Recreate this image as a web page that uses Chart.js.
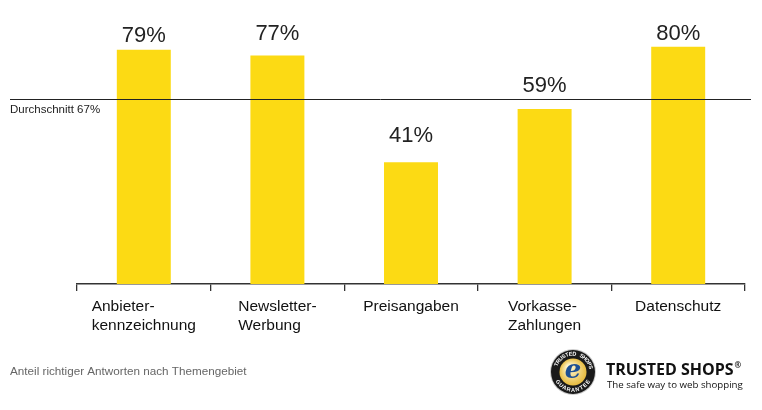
<!DOCTYPE html>
<html>
<head>
<meta charset="utf-8">
<script src="https://cdn.jsdelivr.net/npm/chart.js@4/dist/chart.umd.min.js"></script>
<style>
  html, body { margin: 0; padding: 0; background: #fff; }
  #wrap { width: 762px; height: 410px; position: relative; }
</style>
</head>
<body>
<div id="wrap"><canvas id="quizChart"></canvas></div>
<script>
// Anteil richtiger Antworten je Themengebiet
const categories = [
    ['Anbieter-', 'kennzeichnung'],
    ['Newsletter-', 'Werbung'],
    ['Preisangaben'],
    ['Vorkasse-', 'Zahlungen'],
    ['Datenschutz']
];
const correctShare = [79, 77, 41, 59, 80];
const averageLabel = 'Durchschnitt 67%';
const averageLevel = 62.5;   // where the line sits in the picture
const footnote = 'Anteil richtiger Antworten nach Themengebiet';

// gap between bar top and its label (px), as in the original
const labelGap = [8, 16, 20, 17, 7];

const FONT = '"Liberation Sans", Arial, sans-serif';

const averageLine = {
    id: 'averageLine',
    afterDatasetsDraw(chart) {
        const ctx = chart.ctx;
        const y = Math.round(chart.scales.y.getPixelForValue(averageLevel)) + 0.5;
        ctx.save();
        ctx.strokeStyle = '#222';
        ctx.lineWidth = 1;
        ctx.beginPath();
        ctx.moveTo(10, y);
        ctx.lineTo(751, y);
        ctx.stroke();
        ctx.fillStyle = '#222';
        ctx.font = '11.5px ' + FONT;
        ctx.textBaseline = 'middle';
        ctx.fillText(averageLabel, 10, y + 10);
        ctx.restore();
    }
};

const valueLabels = {
    id: 'valueLabels',
    afterDatasetsDraw(chart) {
        const ctx = chart.ctx;
        const meta = chart.getDatasetMeta(0);
        ctx.save();
        ctx.fillStyle = '#222';
        ctx.font = '22px ' + FONT;
        ctx.textAlign = 'center';
        ctx.textBaseline = 'alphabetic';
        meta.data.forEach((bar, i) => {
            ctx.fillText(correctShare[i] + '%', bar.x, bar.y - labelGap[i]);
        });
        ctx.restore();
    }
};

// category names: block centred under the bar, lines left aligned
const categoryLabels = {
    id: 'categoryLabels',
    afterDraw(chart) {
        const ctx = chart.ctx;
        const xs = chart.scales.x;
        const top = chart.chartArea.bottom;
        ctx.save();
        ctx.fillStyle = '#111';
        ctx.font = '15.5px ' + FONT;
        ctx.textBaseline = 'alphabetic';
        categories.forEach((lines, i) => {
            const cx = xs.getPixelForValue(i);
            const w = Math.max(...lines.map(l => ctx.measureText(l).width));
            lines.forEach((line, j) => {
                ctx.fillText(line, cx - w / 2, top + 27 + j * 19);
            });
        });

        ctx.fillStyle = '#666';
        ctx.font = '11.7px ' + FONT;
        ctx.textBaseline = 'middle';
        ctx.fillText(footnote, 10, 372);
        ctx.restore();
    }
};

// Trusted Shops badge
const badge = {
    id: 'badge',
    afterDraw(chart) {
        const ctx = chart.ctx;
        const cx = 573, cy = 372;
        ctx.save();
        ctx.fillStyle = '#ccc';
        ctx.beginPath(); ctx.arc(cx, cy, 23, 0, Math.PI * 2); ctx.fill();
        ctx.fillStyle = '#1a1a1a';
        ctx.beginPath(); ctx.arc(cx, cy, 22, 0, Math.PI * 2); ctx.fill();
        const g = ctx.createRadialGradient(cx - 4, cy - 5, 2, cx, cy, 14);
        g.addColorStop(0, '#fff6cf');
        g.addColorStop(1, '#e6b93a');
        ctx.fillStyle = g;
        ctx.beginPath(); ctx.arc(cx, cy, 13.5, 0, Math.PI * 2); ctx.fill();
        ctx.fillStyle = '#1d4f93';
        ctx.font = 'italic bold 26px "DejaVu Serif", serif';
        ctx.textAlign = 'center';
        ctx.textBaseline = 'middle';
        ctx.fillText('e', cx, cy - 1);

        // ring lettering
        ctx.fillStyle = '#fff';
        ctx.font = 'bold 5.5px ' + FONT;
        const drawArc = (text, start, end, r, flip) => {
            const n = text.length;
            for (let k = 0; k < n; k++) {
                const a = start + (end - start) * (k + 0.5) / n;
                ctx.save();
                ctx.translate(cx + r * Math.cos(a), cy + r * Math.sin(a));
                ctx.rotate(flip ? a - Math.PI / 2 : a + Math.PI / 2);
                ctx.fillText(text[k], 0, 0);
                ctx.restore();
            }
        };
        drawArc('TRUSTED SHOPS', Math.PI * 1.1, Math.PI * 1.95, 18, false);
        drawArc('GUARANTEE', Math.PI * 0.85, Math.PI * 0.15, 18, true);

        ctx.textAlign = 'left';
        ctx.textBaseline = 'alphabetic';
        ctx.fillStyle = '#111';
        ctx.font = 'bold 16px "Open Sans", ' + FONT;
        ctx.fillText('TRUSTED SHOPS', 606, 375);
        const w = ctx.measureText('TRUSTED SHOPS').width;
        ctx.font = 'bold 8px "Open Sans", ' + FONT;
        ctx.fillText('®', 606 + w + 1, 368);
        ctx.font = '9.7px "Open Sans", ' + FONT;
        ctx.fillText('The safe way to web shopping', 607, 388);
        ctx.restore();
    }
};

const ctx = document.getElementById('quizChart').getContext('2d');

new Chart(ctx, {
    type: 'bar',
    data: {
        labels: categories,
        datasets: [{
            data: correctShare,
            backgroundColor: '#fcda14',
            borderWidth: 0,
            barPercentage: 0.404,
            categoryPercentage: 1
        }]
    },
    options: {
        responsive: true,
        maintainAspectRatio: false,
        animation: false,
        layout: {
            padding: { top: 17, left: 77, right: 17, bottom: 119 }
        },
        plugins: {
            legend: { display: false },
            tooltip: { enabled: false }
        },
        scales: {
            x: {
                ticks: { display: false },
                grid: {
                    drawOnChartArea: false,
                    drawTicks: true,
                    tickLength: 7,
                    color: '#333',
                    lineWidth: 1.3
                },
                border: { display: true, color: '#333', width: 1.5 }
            },
            y: {
                display: false,
                min: 0,
                max: 90
            }
        }
    },
    plugins: [averageLine, valueLabels, categoryLabels, badge]
});
</script>
</body>
</html>
